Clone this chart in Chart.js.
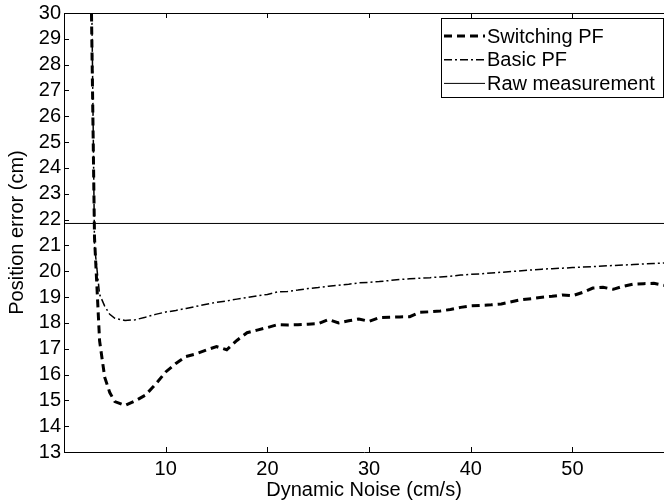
<!DOCTYPE html>
<html>
<head>
<meta charset="utf-8">
<script src="https://cdn.jsdelivr.net/npm/chart.js@4.4.1/dist/chart.umd.min.js"></script>
<style>
  html, body { margin: 0; padding: 0; background: #fff; }
  #wrap { width: 664px; height: 503px; }
</style>
</head>
<body>
<div id="wrap"><canvas id="chart" width="664" height="503"></canvas></div>
<script>
// dynamic noise (cm/s), denser sampling near the start of the sweep
var noise = [2.6, 3, 3.5, 4, 4.5, 5,
  6, 7, 8, 9, 10, 11, 12, 13, 14, 15, 16, 17, 18, 19, 20, 21, 22, 23, 24, 25, 26, 27, 28, 29,
  30, 31, 32, 33, 34, 35, 36, 37, 38, 39, 40, 41, 42, 43, 44, 45, 46, 47, 48, 49, 50, 51, 52,
  53, 54, 55, 56, 57, 58, 59];

// position error (cm)
var switchingPF = [33, 21.3, 17.3, 15.9, 15.3, 14.95,
  14.8, 14.98, 15.2, 15.62, 16.1, 16.43, 16.7, 16.8, 16.95, 17.08, 16.96, 17.32, 17.62, 17.72,
  17.82, 17.93, 17.92, 17.93, 17.95, 17.97, 18.13, 18.0, 18.08, 18.15, 18.06, 18.2, 18.22, 18.23,
  18.24, 18.41, 18.43, 18.46, 18.52, 18.6, 18.66, 18.68, 18.7, 18.73, 18.82, 18.9, 18.94, 18.99,
  19.03, 19.08, 19.05, 19.18, 19.35, 19.38, 19.3, 19.42, 19.5, 19.52, 19.53, 19.45];

var basicPF = [35, 21, 19.1, 18.65, 18.33, 18.18,
  18.09, 18.12, 18.22, 18.33, 18.42, 18.48, 18.56, 18.64, 18.72, 18.8, 18.85, 18.92, 18.98, 19.05,
  19.1, 19.2, 19.22, 19.27, 19.33, 19.37, 19.42, 19.46, 19.5, 19.55, 19.57, 19.6, 19.64, 19.68,
  19.71, 19.73, 19.75, 19.78, 19.81, 19.85, 19.88, 19.9, 19.93, 19.96, 19.99, 20.02, 20.05, 20.08,
  20.1, 20.12, 20.14, 20.16, 20.18, 20.2, 20.22, 20.24, 20.26, 20.28, 20.3, 20.32];

var rawNoise = [0, 59];
var rawMeasurement = [21.85, 21.85];

var xTicks = [10, 20, 30, 40, 50];
var yMin = 13, yMax = 30;

var FONT = "'Liberation Sans', Arial, Helvetica, sans-serif";

function pts(xs, ys){
  return xs.map(function(x, i){ return {x: x, y: ys[i]}; });
}

// matlab style box: top edge plus inward tick marks
var matlabBox = {
  id: 'matlabBox',
  afterDatasetsDraw: function(chart){
    var ctx = chart.ctx, a = chart.chartArea;
    var xs = chart.scales.x, ys = chart.scales.y;
    ctx.save();
    ctx.strokeStyle = '#000';
    ctx.lineWidth = 1;
    ctx.setLineDash([]);
    ctx.beginPath();
    ctx.moveTo(a.left, a.top + 0.5);
    ctx.lineTo(a.right, a.top + 0.5);
    xs.ticks.forEach(function(t){
      var px = Math.round(xs.getPixelForValue(t.value)) + 0.5;
      ctx.moveTo(px, a.bottom); ctx.lineTo(px, a.bottom - 5);
      ctx.moveTo(px, a.top); ctx.lineTo(px, a.top + 5);
    });
    ys.ticks.forEach(function(t){
      var py = Math.round(ys.getPixelForValue(t.value)) + 0.5;
      ctx.moveTo(a.left, py); ctx.lineTo(a.left + 5, py);
    });
    ctx.stroke();
    ctx.restore();
  }
};

// boxed legend in the top right corner
var boxLegend = {
  id: 'boxLegend',
  afterDraw: function(chart){
    var ctx = chart.ctx, a = chart.chartArea;
    var left = a.right - 223, top = a.top + 5, w = 222, h = 79;
    ctx.save();
    ctx.fillStyle = '#fff';
    ctx.fillRect(left, top, w, h);
    ctx.strokeStyle = '#000';
    ctx.lineWidth = 1;
    ctx.setLineDash([]);
    ctx.strokeRect(left + 0.5, top + 0.5, w, h);
    ctx.font = '20px ' + FONT;
    ctx.textBaseline = 'middle';
    ctx.fillStyle = '#000';
    chart.data.datasets.forEach(function(ds, i){
      var y = top + 18 + i * 23.7;
      ctx.beginPath();
      ctx.setLineDash(ds.borderDash || []);
      ctx.lineWidth = ds.borderWidth;
      ctx.moveTo(left + 3, y);
      ctx.lineTo(left + 44, y);
      ctx.stroke();
      ctx.fillText(ds.label, left + 46, y + 1);
    });
    ctx.restore();
  }
};

var ctx = document.getElementById('chart').getContext('2d');
var chart = new Chart(ctx, {
  type: 'line',
  data: {
    datasets: [{
      label: 'Switching PF',
      data: pts(noise, switchingPF),
      borderColor: '#000',
      borderWidth: 3,
      borderDash: [8, 5],
      pointRadius: 0,
      tension: 0
    }, {
      label: 'Basic PF',
      data: pts(noise, basicPF),
      borderColor: '#000',
      borderWidth: 1.5,
      borderDash: [8, 3, 2, 3],
      pointRadius: 0,
      tension: 0
    }, {
      label: 'Raw measurement',
      data: pts(rawNoise, rawMeasurement),
      borderColor: '#000',
      borderWidth: 1,
      pointRadius: 0,
      tension: 0
    }]
  },
  options: {
    responsive: false,
    animation: false,
    devicePixelRatio: 1,
    layout: { padding: { top: 10, right: 0, bottom: 0, left: 0 } },
    plugins: {
      legend: { display: false },
      tooltip: { enabled: false }
    },
    scales: {
      x: {
        type: 'linear',
        min: 0,
        max: 59,
        grid: { display: false, drawTicks: false },
        border: { display: true, color: '#000', width: 1 },
        afterBuildTicks: function(axis){
          axis.ticks = xTicks.map(function(v){ return {value: v}; });
        },
        ticks: {
          color: '#000',
          font: { family: FONT, size: 20, lineHeight: 1 },
          padding: 7,
          maxRotation: 0,
          autoSkip: false
        },
        title: {
          display: true,
          text: 'Dynamic Noise (cm/s)',
          color: '#000',
          font: { family: FONT, size: 20, lineHeight: 1.2 },
          padding: { top: 0, bottom: 1 }
        },
        afterFit: function(s){ s.height = 51; }
      },
      y: {
        min: yMin,
        max: yMax,
        grid: { display: false, drawTicks: false },
        border: { display: true, color: '#000', width: 1 },
        ticks: {
          stepSize: 1,
          color: '#000',
          font: { family: FONT, size: 20, lineHeight: 1 },
          padding: 3
        },
        title: {
          display: true,
          text: 'Position error (cm)',
          color: '#000',
          font: { family: FONT, size: 20, lineHeight: 1.2 },
          padding: { top: 5, bottom: 0 }
        },
        afterFit: function(s){ s.width = 64; }
      }
    }
  },
  plugins: [matlabBox, boxLegend]
});
</script>
</body>
</html>
